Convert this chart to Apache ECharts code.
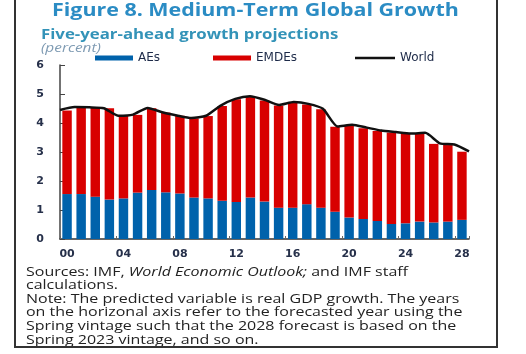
<!DOCTYPE html>
<html>
<head>
<meta charset="utf-8">
<script src="https://cdn.jsdelivr.net/npm/echarts@6/dist/echarts.min.js"></script>
<style>
  html, body { margin: 0; padding: 0; background: #fff; }
  #chart { width: 526px; height: 354px; }
</style>
</head>
<body>
<div id="chart"></div>
<script>
// forecast years (2000-2028), shown as two digits
var years = ['00','01','02','03','04','05','06','07','08','09','10','11','12','13','14',
             '15','16','17','18','19','20','21','22','23','24','25','26','27','28'];
// contributions to five-year-ahead growth, percent
var aes = [1.55,1.55,1.46,1.36,1.40,1.60,1.69,1.61,1.57,1.43,1.40,1.32,1.28,1.43,1.29,
           1.08,1.08,1.20,1.08,0.94,0.74,0.69,0.62,0.52,0.54,0.60,0.57,0.60,0.66];
var emdes = [2.88,2.99,3.08,3.15,2.84,2.68,2.82,2.75,2.68,2.73,2.84,3.27,3.54,3.48,3.49,
             3.52,3.62,3.44,3.39,2.93,3.19,3.13,3.10,3.15,3.08,3.04,2.71,2.64,2.35];
var world = [4.45,4.55,4.54,4.51,4.25,4.29,4.52,4.37,4.26,4.17,4.25,4.60,4.83,4.92,4.80,
             4.62,4.72,4.66,4.49,3.88,3.94,3.84,3.74,3.69,3.64,3.66,3.30,3.26,3.02];

var font = '"Open Sans", "Noto Sans", sans-serif';
var wide = '"DejaVu Sans", Verdana, sans-serif';
var txt = '#222';
var lgText = { fontSize: 12, color: '#1d2a48', fontFamily: wide };

var chart = echarts.init(document.getElementById('chart'));
chart.setOption({
  animation: false,
  backgroundColor: '#fff',
  textStyle: { fontFamily: font },
  grid: { left: 60, right: 57, top: 65, bottom: 115 },
  legend: [
    { left: 95, top: 52, padding: 0, itemWidth: 38, itemHeight: 5, textStyle: lgText,
      data: [{ name: 'AEs', icon: 'rect' }] },
    { left: 213, top: 52, padding: 0, itemWidth: 38, itemHeight: 5, textStyle: lgText,
      data: [{ name: 'EMDEs', icon: 'rect' }] },
    { left: 355, top: 52, padding: 0, itemWidth: 40, itemHeight: 2.5, textStyle: lgText,
      data: [{ name: 'World', icon: 'rect' }] }
  ],
  xAxis: [
    {
      type: 'category',
      data: years,
      boundaryGap: true,
      axisLine: { lineStyle: { color: '#333', width: 1.5 } },
      axisTick: { show: true, inside: true, length: 3, interval: 3, lineStyle: { color: '#666' } },
      axisLabel: { interval: 3, fontSize: 11, fontWeight: 'bold', fontFamily: wide,
                   color: '#26304a', margin: 10 }
    },
    {
      type: 'category',
      data: years,
      boundaryGap: false,
      show: false
    }
  ],
  yAxis: {
    type: 'value',
    min: 0, max: 6, interval: 1,
    splitLine: { show: false },
    axisLine: { show: true, lineStyle: { color: '#444', width: 1.5 } },
    axisTick: { show: true, inside: true, length: 5, lineStyle: { color: '#444' } },
    axisLabel: { fontSize: 11, fontWeight: 'bold', fontFamily: wide, color: '#26304a', margin: 16 }
  },
  series: [
    { name: 'AEs', type: 'bar', stack: 'g', data: aes, barCategoryGap: '33%',
      itemStyle: { color: '#0062ab' } },
    { name: 'EMDEs', type: 'bar', stack: 'g', data: emdes,
      itemStyle: { color: '#d80000' } },
    { name: 'World', type: 'line', xAxisIndex: 1, data: world, smooth: 0.2,
      showSymbol: false, lineStyle: { color: '#111', width: 2.5 },
      itemStyle: { color: '#111' } }
  ],
  graphic: [
    { type: 'text', x: 52, y: 2, scaleX: 1.19,
      style: { text: 'Figure 8. Medium-Term Global Growth', font: 'bold 18px ' + font, fill: '#2b8cc4' } },
    { type: 'text', x: 41, y: 28, scaleX: 1.2,
      style: { text: 'Five-year-ahead growth projections', font: 'bold 14px ' + font, fill: '#3393b8' } },
    { type: 'text', x: 41, y: 43, scaleX: 1.28,
      style: { text: '(percent)', font: 'italic 12px ' + font, fill: '#7f9bb3' } },
    { type: 'text', x: 26, y: 266, scaleX: 1.23,
      style: {
        text: '{n|Sources: IMF, }{i|World Economic Outlook;}{n| and IMF staff}',
        rich: {
          n: { font: '13px ' + font, fill: txt },
          i: { font: 'italic 13px ' + font, fill: txt }
        }
      } },
    { type: 'text', x: 26, y: 279, scaleX: 1.23,
      style: { text: 'calculations.', font: '13px ' + font, fill: txt } },
    { type: 'text', x: 26, y: 292, scaleX: 1.23,
      style: {
        text: 'Note: The predicted variable is real GDP growth. The years\n' +
              'on the horizonal axis refer to the forecasted year using the\n' +
              'Spring vintage such that the 2028 forecast is based on the\n' +
              'Spring 2023 vintage, and so on.',
        font: '13px ' + font, fill: txt, lineHeight: 13.8
      } },
    { type: 'line', shape: { x1: 15, y1: 0, x2: 15, y2: 347 }, style: { stroke: '#333', lineWidth: 2 } },
    { type: 'line', shape: { x1: 497, y1: 0, x2: 497, y2: 347 }, style: { stroke: '#333', lineWidth: 2 } },
    { type: 'line', shape: { x1: 14, y1: 347, x2: 498, y2: 347 }, style: { stroke: '#333', lineWidth: 2 } }
  ]
});
</script>
</body>
</html>
